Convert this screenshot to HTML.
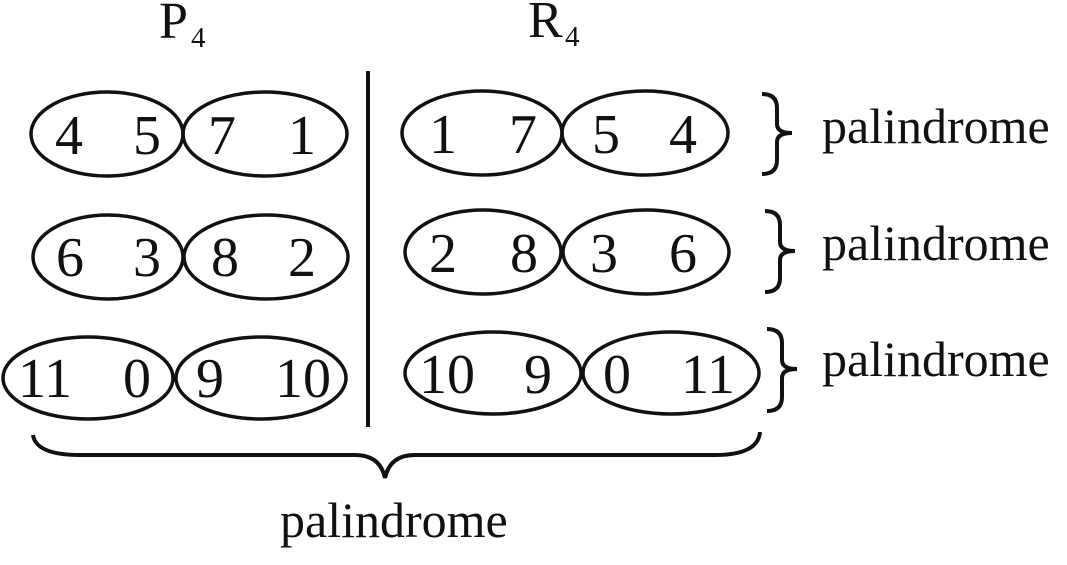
<!DOCTYPE html>
<html><head><meta charset="utf-8"><style>html,body{margin:0;padding:0;background:#fff}svg{display:block}text{font-family:"Liberation Serif","Times New Roman",serif}</style></head>
<body>
<svg width="1067" height="565" viewBox="0 0 1067 565" xmlns="http://www.w3.org/2000/svg" fill="#111">
<g fill="none" stroke="#111" stroke-width="3.5">
<ellipse cx="107" cy="134" rx="76" ry="42"/>
<ellipse cx="265" cy="134" rx="82" ry="42"/>
<ellipse cx="108" cy="257" rx="75" ry="42"/>
<ellipse cx="266" cy="257" rx="82" ry="42"/>
<ellipse cx="88" cy="378" rx="85" ry="41"/>
<ellipse cx="261" cy="378" rx="85" ry="41"/>
<ellipse cx="482" cy="133" rx="80" ry="42"/>
<ellipse cx="645" cy="133" rx="83" ry="42"/>
<ellipse cx="483" cy="252" rx="78" ry="42"/>
<ellipse cx="646" cy="252" rx="83" ry="42"/>
<ellipse cx="493" cy="373" rx="88" ry="41"/>
<ellipse cx="671" cy="373" rx="88" ry="41"/>
<line x1="368" y1="71" x2="368" y2="427" stroke-width="4"/>
<path d="M33 435 Q36 455 80 455 L355 455 Q380 455 385 478 Q390 455 415 455 L715 455 Q758 455 760 432" stroke-width="4"/>
<path d="M762 94 Q777 94 777 108 L777 124 Q777 133 792 133 Q777 133 777 142 L777 160 Q777 174 762 174" stroke-width="4"/>
<path d="M765 211 Q780 211 780 225 L780 242 Q780 251 795 251 Q780 251 780 260 L780 278 Q780 292 765 292" stroke-width="4"/>
<path d="M767 329 Q782 329 782 343 L782 360 Q782 369 797 369 Q782 369 782 378 L782 397 Q782 411 767 411" stroke-width="4"/>
</g>
<g font-size="52"><text x="159" y="38">P</text><text x="528" y="37">R</text></g>
<g font-size="29"><text x="191" y="47">4</text><text x="565" y="46">4</text></g>
<g font-size="56" text-anchor="middle">
<text x="69" y="154">4</text><text x="147" y="154">5</text><text x="222" y="154">7</text><text x="302" y="154">1</text>
<text x="443" y="153">1</text><text x="523" y="153">7</text><text x="606" y="153">5</text><text x="683" y="153">4</text>
<text x="70" y="276">6</text><text x="147" y="276">3</text><text x="225" y="276">8</text><text x="302" y="276">2</text>
<text x="443" y="272">2</text><text x="524" y="272">8</text><text x="604" y="272">3</text><text x="683" y="272">6</text>
<text x="45" y="397">11</text><text x="137" y="397">0</text><text x="210" y="397">9</text><text x="303" y="397">10</text>
<text x="447" y="393">10</text><text x="538" y="393">9</text><text x="617" y="393">0</text><text x="708" y="393">11</text>
</g>
<g font-size="50">
<text x="822" y="143">palindrome</text>
<text x="822" y="260">palindrome</text>
<text x="822" y="376">palindrome</text>
<text x="280" y="537">palindrome</text>
</g>
</svg>
</body></html>
